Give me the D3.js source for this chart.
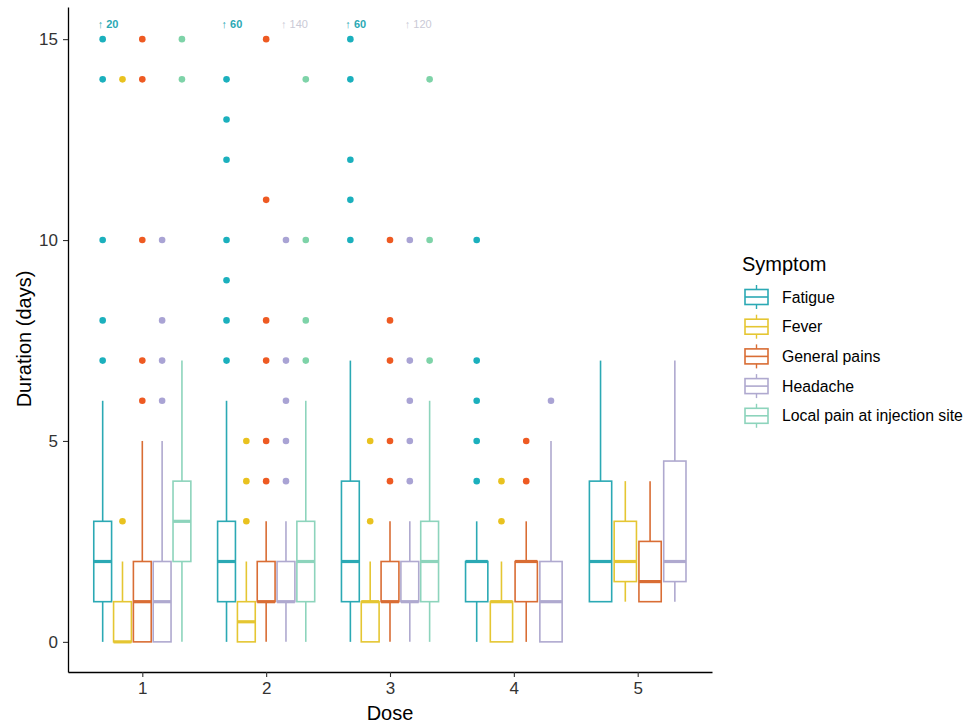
<!DOCTYPE html>
<html>
  <head>
    <meta charset="utf-8">
    <title>Symptom duration by dose</title>
    <script src="https://d3js.org/d3.v7.min.js"></script>
    <style>
      body { margin: 0; background: #fff; }
      text { font-family: "Liberation Sans", Arial, sans-serif; }
    </style>
  </head>
  <body>
    <script>
      // doses and symptoms
      const doses = [1, 2, 3, 4, 5];
      const symptoms = ["Fatigue", "Fever", "General pains", "Headache", "Local pain at injection site"];
      const boxColors = ["#2ba9b4", "#e5c632", "#d96d34", "#afa9cf", "#8dd4bc"];
      const dotColors = ["#1bb0bd", "#e9c21f", "#ee5a22", "#a9a3d4", "#7ed3a8"];

      // box stats per dose: [whisker low, q1, median, q3, whisker high]
      const fatigueBoxes = [[0, 1, 2, 3, 6], [0, 1, 2, 3, 6], [0, 1, 2, 4, 7], [0, 1, 2, 2, 3], [1, 1, 2, 4, 7]];
      const feverBoxes = [[0, 0, 0, 1, 2], [0, 0, 0.5, 1, 2], [0, 0, 1, 1, 2], [0, 0, 1, 1, 2], [1, 1.5, 2, 3, 4]];
      const painsBoxes = [[0, 0, 1, 2, 5], [0, 1, 1, 2, 3], [0, 1, 1, 2, 3], [0, 1, 2, 2, 3], [1, 1, 1.5, 2.5, 4]];
      const headacheBoxes = [[0, 0, 1, 2, 5], [0, 1, 1, 2, 3], [0, 1, 1, 2, 3], [0, 0, 1, 2, 5], [1, 1.5, 2, 4.5, 7]];
      const localBoxes = [[0, 2, 3, 4, 7], [0, 1, 2, 3, 6], [0, 1, 2, 3, 6], null, null];

      // outliers per dose
      const fatigueOutliers = [[7, 8, 10, 14, 15], [7, 8, 9, 10, 12, 13, 14], [10, 11, 12, 14, 15], [4, 5, 6, 7, 10], []];
      const feverOutliers = [[3, 14], [3, 4, 5], [3, 5], [3, 4], []];
      const painsOutliers = [[6, 7, 10, 14, 15], [4, 5, 7, 8, 11, 15], [4, 5, 7, 8, 10], [4, 5], []];
      const headacheOutliers = [[6, 7, 8, 10], [4, 5, 6, 7, 10], [4, 5, 6, 7, 10], [6], []];
      const localOutliers = [[14, 15], [7, 8, 10, 14], [7, 10, 14], [], []];

      // off-scale outlier notes: dose, symptom index, value
      const offDose = [1, 2, 2, 3, 3];
      const offSymptom = [0, 0, 3, 0, 3];
      const offValue = [20, 60, 140, 60, 120];

      const allBoxes = [fatigueBoxes, feverBoxes, painsBoxes, headacheBoxes, localBoxes];
      const allOutliers = [fatigueOutliers, feverOutliers, painsOutliers, headacheOutliers, localOutliers];

      const svg = d3.select("body").append("svg")
          .attr("width", 964)
          .attr("height", 725);

      const x = d3.scaleLinear().domain([0.4, 5.6]).range([68, 712]);
      const y = d3.scaleLinear().domain([-0.75, 15.8]).range([672, 7]);

      // work out dodge positions for each dose
      const items = [];
      doses.forEach((dose, di) => {
        const present = symptoms.map((s, si) => si).filter(si => allBoxes[si][di]);
        const n = present.length;
        const step = 0.8 / n;
        present.forEach((si, k) => {
          const st = allBoxes[si][di];
          items.push({
            dose: dose, si: si,
            cx: dose + (k - (n - 1) / 2) * step,
            half: step * 0.9 / 2,
            lo: st[0], q1: st[1], med: st[2], q3: st[3], hi: st[4],
            out: allOutliers[si][di]
          });
        });
      });

      const plot = svg.append("g");

      items.forEach(d => {
        const g = plot.append("g");
        const col = boxColors[d.si];
        const xc = x(d.cx);
        const x0 = x(d.cx - d.half), x1 = x(d.cx + d.half);
        // whiskers
        g.append("line").attr("x1", xc).attr("x2", xc)
            .attr("y1", y(d.q3)).attr("y2", y(d.hi))
            .attr("stroke", col).attr("stroke-width", 1.6);
        g.append("line").attr("x1", xc).attr("x2", xc)
            .attr("y1", y(d.q1)).attr("y2", y(d.lo))
            .attr("stroke", col).attr("stroke-width", 1.6);
        // box
        g.append("rect")
            .attr("x", x0).attr("y", y(d.q3))
            .attr("width", x1 - x0).attr("height", y(d.q1) - y(d.q3))
            .attr("fill", "#fff").attr("stroke", col).attr("stroke-width", 1.6);
        // median
        g.append("line").attr("x1", x0).attr("x2", x1)
            .attr("y1", y(d.med)).attr("y2", y(d.med))
            .attr("stroke", col).attr("stroke-width", 3.2);
        // outliers
        g.selectAll("circle").data(d.out).join("circle")
            .attr("cx", xc).attr("cy", v => y(v)).attr("r", 3.3)
            .attr("fill", dotColors[d.si]);
      });

      // off-scale notes
      offDose.forEach((dose, i) => {
        const it = items.find(d => d.dose === dose && d.si === offSymptom[i]);
        svg.append("text")
            .attr("x", x(it.cx) - 5)
            .attr("y", 28)
            .attr("font-size", 11)
            .attr("font-weight", offSymptom[i] === 0 ? "bold" : "normal")
            .attr("fill", offSymptom[i] === 0 ? "#2ba9b4" : "#cacad6")
            .text("\u2191 " + offValue[i]);
      });

      // axes
      const yAxis = svg.append("g")
          .attr("transform", "translate(68,0)")
          .call(d3.axisLeft(y).tickValues([0, 5, 10, 15]).tickSize(5).tickSizeOuter(0).tickPadding(5));
      const xAxis = svg.append("g")
          .attr("transform", "translate(0,672)")
          .call(d3.axisBottom(x).tickValues(doses).tickFormat(d3.format("d"))
            .tickSize(5).tickSizeOuter(0).tickPadding(5));
      [yAxis, xAxis].forEach(a => {
        a.select(".domain").attr("stroke", "#000").attr("stroke-width", 1.3);
        a.selectAll(".tick line").attr("stroke", "#333").attr("stroke-width", 1.1);
        a.selectAll(".tick text").attr("font-size", 17).attr("fill", "#333")
            .attr("font-family", "'Liberation Sans', Arial, sans-serif");
      });

      svg.append("text")
          .attr("x", 390).attr("y", 720)
          .attr("text-anchor", "middle").attr("font-size", 20)
          .text("Dose");
      svg.append("text")
          .attr("transform", "translate(31,339) rotate(-90)")
          .attr("text-anchor", "middle").attr("font-size", 20)
          .text("Duration (days)");

      // legend
      const legend = svg.append("g");
      legend.append("text")
          .attr("x", 742).attr("y", 271)
          .attr("font-size", 20)
          .text("Symptom");
      symptoms.forEach((s, i) => {
        const cy = 297 + i * 29.7;
        const col = boxColors[i];
        legend.append("line").attr("x1", 756.5).attr("x2", 756.5)
            .attr("y1", cy - 12).attr("y2", cy + 12)
            .attr("stroke", col).attr("stroke-width", 1.4);
        legend.append("rect")
            .attr("x", 745).attr("y", cy - 7.5).attr("width", 23).attr("height", 15)
            .attr("fill", "#fff").attr("stroke", col).attr("stroke-width", 1.6);
        legend.append("line").attr("x1", 745).attr("x2", 768)
            .attr("y1", cy).attr("y2", cy)
            .attr("stroke", col).attr("stroke-width", 1.6);
        legend.append("text")
            .attr("x", 782).attr("y", cy)
            .attr("dominant-baseline", "central")
            .attr("font-size", 15.8)
            .text(s);
      });
    </script>
  </body>
</html>
